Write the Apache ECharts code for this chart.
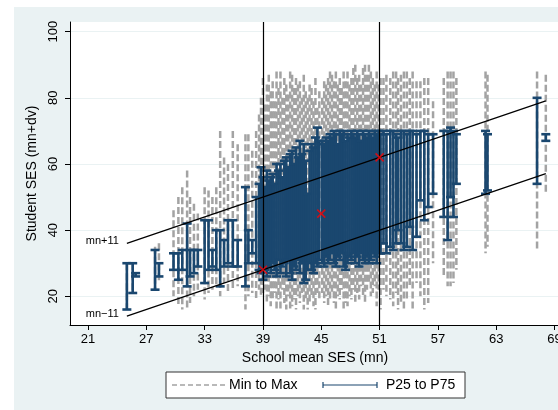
<!DOCTYPE html>
<html>
<head>
<meta charset="utf-8">
<script src="https://cdn.jsdelivr.net/npm/echarts@6/dist/echarts.min.js"></script>
<style>
html, body { margin: 0; padding: 0; background: #fff; }
#main { width: 558px; height: 410px; }
</style>
</head>
<body>
<div id="main"></div>
<script>
// school mean SES (one entry per school)
var mn = [
    25.0, 25.6, 25.9, 27.9, 28.3, 29.8, 30.3, 30.7, 31.2, 31.5, 31.9, 32.3, 33.0, 33.4, 33.8, 34.2, 34.6, 35.0, 35.4, 35.9, 36.4, 37.2, 37.5, 37.9, 38.3, 38.6,
    38.8, 39.0, 39.2, 39.4, 39.6, 39.8, 40.0, 40.2, 40.4, 40.6, 40.8, 41.0, 41.2, 41.4, 41.6, 41.8, 42.0, 42.2, 42.4, 42.6,
    42.8, 43.0, 43.2, 43.4, 43.6, 43.8, 44.0, 44.2, 44.4, 44.6, 44.8, 45.1, 45.3, 45.5, 45.7, 45.9, 46.1, 46.3, 46.5, 46.7,
    46.9, 47.1, 47.3, 47.5, 47.7, 47.9, 48.1, 48.3, 48.5, 48.7, 48.9, 49.1, 49.3, 49.5, 49.7, 49.9, 50.1, 50.3, 50.5, 50.7, 50.9, 51.1,
    51.4, 51.7, 52.1, 52.4, 52.7, 52.9, 53.2, 53.5, 53.8, 54.1, 54.4, 54.8, 55.2, 55.6, 56.0, 56.5, 57.6, 58.0, 58.3, 58.6, 58.9,
    61.9, 62.1, 67.2, 68.1
];
var smin = [
    16, 21, 26, 22, 24, 20, 17, 16, 16, 18, 20, 22, 19, 21, 22, 23, 20, 24, 21, 22, 23, 16, 20, 21, 19, 22,
    20, 21, 22, 18, 20, 17, 19, 21, 16, 19, 16, 22, 18, 16, 20, 16, 17, 19, 16, 20,
    18, 21, 16, 19, 16, 18, 20, 17, 16, 21, 19, 21, 18, 20, 17, 19, 21, 18, 16, 20,
    19, 22, 16, 18, 17, 20, 19, 22, 18, 21, 19, 23, 20, 18, 22, 24, 20, 21, 23, 17, 22, 16,
    22, 20, 19, 17, 21, 16, 18, 16, 19, 23, 16, 24, 20, 16, 18, 30, 26, 23, 23, 24, 28,
    33, 35, 34, 51
];
var p25 = [
    16, 21, 26, 22, 26, 28, 25, 28, 23, 26, 27, 29, 24, 28, 29, 28, 23, 29, 30, 29, 29, 23, 30, 33, 30, 28,
    27, 25, 28, 26, 29, 27, 30, 28, 26, 31, 27, 29, 30, 26, 31, 27, 25, 29, 28, 31,
    27, 30, 24, 25, 28, 30, 28, 27, 30, 29, 31, 30, 29, 32, 30, 31, 33, 30, 29, 32,
    31, 33, 29, 28, 30, 32, 31, 33, 30, 32, 29, 33, 31, 30, 32, 30, 31, 33, 32, 30, 33, 33,
    36, 33, 35, 34, 36, 40, 36, 34, 35, 41, 34, 38, 49, 43, 47, 51, 44, 37, 50, 44, 54,
    51, 52, 54, 67
];
var p75 = [
    30, 30, 27, 34, 30, 33, 33, 34, 42, 34, 34, 34, 43, 43, 34, 40, 40, 37, 43, 43, 37, 53, 40, 37, 50, 54,
    59, 56, 53, 58, 55, 56, 57, 54, 60, 58, 60, 56, 61, 62, 59, 63, 64, 60, 65, 62,
    67, 63, 66, 61, 51, 64, 66, 65, 68, 71, 67, 67, 66, 68, 67, 69, 68, 70, 69, 66,
    70, 69, 70, 67, 69, 68, 70, 69, 68, 70, 69, 67, 70, 69, 68, 70, 69, 68, 70, 69, 70, 69,
    70, 69, 70, 70, 69, 68, 70, 70, 69, 70, 70, 69, 70, 70, 69, 69, 70, 70, 71, 70, 69,
    70, 69, 80, 69
];
var smax = [
    30, 30, 27, 35, 36, 46, 50, 53, 58, 50, 48, 45, 53, 52, 50, 53, 70, 62, 60, 70, 66, 69, 69, 64, 70, 75,
    80, 86, 78, 84, 87, 82, 85, 79, 88, 83, 88, 80, 86, 84, 81, 88, 87, 83, 86, 84,
    85, 80, 87, 82, 80, 84, 83, 79, 86, 77, 82, 80, 85, 84, 86, 88, 87, 85, 88, 84,
    86, 83, 88, 85, 88, 84, 86, 89, 90, 86, 87, 84, 89, 90, 87, 90, 88, 86, 84, 88, 84, 86,
    86, 87, 86, 88, 88, 86, 87, 88, 88, 86, 88, 85, 85, 86, 86, 79, 86, 88, 88, 88, 86,
    88, 87, 88, 87
];

// reference lines mn+11 / mn-11, xlines and marked points
var bandX = [25, 68.1];
var upperY = [36, 79.1];
var lowerY = [14, 57.1];
var vlineX = [39, 51];
var markX = [39, 45, 51];
var markY = [28, 45, 62];

var xTicks = [21, 27, 33, 39, 45, 51, 57, 63, 69];
var yTicks = [20, 40, 60, 80, 100];

var font = "'Liberation Sans', Arial, sans-serif";
var navy = '#1a476f';
var gray = '#a3a3a3';

var rangeData = mn.map(function (m, i) { return [m, smin[i], smax[i]]; });
var iqrData = mn.map(function (m, i) { return [m, p25[i], p75[i]]; });

function seg(a, b, st) {
    return { type: 'line', shape: { x1: a[0], y1: a[1], x2: b[0], y2: b[1] }, style: st };
}

function renderRange(params, api) {
    var x = api.value(0);
    var lo = api.coord([x, api.value(1)]);
    var hi = api.coord([x, api.value(2)]);
    return seg(hi, lo, { stroke: gray, lineWidth: 2.5, lineDash: [7, 3] });
}

function renderIqr(params, api) {
    var x = api.value(0);
    var lo = api.coord([x, api.value(1)]);
    var hi = api.coord([x, api.value(2)]);
    var st = { stroke: navy, lineWidth: 2.6 };
    return {
        type: 'group',
        children: [
            seg(lo, hi, st),
            seg([lo[0] - 4.5, lo[1]], [lo[0] + 4.5, lo[1]], st),
            seg([hi[0] - 4.5, hi[1]], [hi[0] + 4.5, hi[1]], st)
        ]
    };
}

function bandLabel(txt) {
    return { show: true, position: 'left', distance: 8, offset: [0, -2], formatter: txt, fontSize: 11, color: '#000', fontFamily: font };
}

var chart = echarts.init(document.getElementById('main'));
var option = {
    animation: false,
    backgroundColor: '#fff',
    textStyle: { fontFamily: font },
    grid: { left: 70, top: 22, right: -2, bottom: 85, outerBoundsMode: 'none', show: true, backgroundColor: '#fff', borderWidth: 0 },
    xAxis: {
        type: 'value',
        min: 19.15,
        max: 69.56,
        name: 'School mean SES (mn)',
        nameLocation: 'middle',
        nameGap: 21,
        nameTextStyle: { fontSize: 14, color: '#000' },
        axisLine: { lineStyle: { color: '#000', width: 1 } },
        axisTick: { customValues: xTicks, length: 5, lineStyle: { color: '#000' } },
        axisLabel: { customValues: xTicks, fontSize: 13, color: '#000', margin: 8 },
        splitLine: { show: false },
        z: 5
    },
    yAxis: {
        type: 'value',
        min: 11.32,
        max: 102.93,
        name: 'Student SES (mn+dv)',
        nameLocation: 'middle',
        nameGap: 27,
        nameTextStyle: { fontSize: 14, color: '#000' },
        axisLine: { show: true, lineStyle: { color: '#000', width: 1 } },
        axisTick: { show: true, customValues: yTicks, length: 5, lineStyle: { color: '#000' } },
        axisLabel: { customValues: yTicks, rotate: 90, fontSize: 13, color: '#000', margin: 10 },
        splitLine: { show: false },
        z: 5
    },
    graphic: [
        { type: 'rect', z: -5, shape: { x: 14, y: 7, width: 560, height: 420 }, style: { fill: '#eaf2f3' } },
        {
            type: 'group', z: 10, children: [
                { type: 'rect', shape: { x: 166, y: 372, width: 299, height: 26 }, style: { fill: '#fff', stroke: '#333', lineWidth: 1 } },
                { type: 'line', shape: { x1: 172, y1: 385, x2: 225, y2: 385 }, style: { stroke: gray, lineWidth: 1.5, lineDash: [5, 3] } },
                { type: 'text', style: { x: 229, y: 385, text: 'Min to Max', fontSize: 14, fill: '#000', verticalAlign: 'middle', fontFamily: font } },
                { type: 'line', shape: { x1: 323, y1: 385, x2: 377, y2: 385 }, style: { stroke: navy, lineWidth: 1.2 } },
                { type: 'line', shape: { x1: 323, y1: 382, x2: 323, y2: 388 }, style: { stroke: navy, lineWidth: 1.2 } },
                { type: 'line', shape: { x1: 377, y1: 382, x2: 377, y2: 388 }, style: { stroke: navy, lineWidth: 1.2 } },
                { type: 'text', style: { x: 386, y: 385, text: 'P25 to P75', fontSize: 14, fill: '#000', verticalAlign: 'middle', fontFamily: font } }
            ]
        }
    ],
    series: [
        {
            // gridlines only
            type: 'line',
            data: [],
            markLine: {
                z: 1, silent: true, symbol: 'none', label: { show: false },
                lineStyle: { color: '#eaf2f3', width: 1.2, type: 'solid' },
                data: yTicks.map(function (v) { return { yAxis: v }; })
            }
        },
        {
            name: 'Min to Max',
            type: 'custom',
            z: 2,
            renderItem: renderRange,
            encode: { x: 0, y: [1, 2] },
            data: rangeData
        },
        {
            name: 'P25 to P75',
            type: 'custom',
            z: 3,
            renderItem: renderIqr,
            encode: { x: 0, y: [1, 2] },
            data: iqrData
        },
        {
            type: 'line',
            z: 4,
            symbol: 'circle',
            symbolSize: 0,
            showSymbol: true,
            lineStyle: { color: '#000', width: 1.2 },
            data: [{ value: [bandX[0], upperY[0]], label: bandLabel('mn+11') }, [bandX[1], upperY[1]]],
            markLine: {
                z: 6, silent: true, symbol: 'none', label: { show: false },
                lineStyle: { color: '#000', width: 1.2, type: 'solid' },
                data: vlineX.map(function (v) { return { xAxis: v }; })
            }
        },
        {
            type: 'line',
            z: 4,
            symbol: 'circle',
            symbolSize: 0,
            showSymbol: true,
            lineStyle: { color: '#000', width: 1.2 },
            data: [{ value: [bandX[0], lowerY[0]], label: bandLabel('mn\u221211') }, [bandX[1], lowerY[1]]]
        },
        {
            type: 'scatter',
            z: 7,
            symbol: 'path://M0,0L10,10M10,0L0,10',
            symbolSize: 8,
            itemStyle: { color: 'none', borderColor: '#ff0000', borderWidth: 1.5 },
            data: markX.map(function (v, i) { return [v, markY[i]]; })
        }
    ]
};
chart.setOption(option);
</script>
</body>
</html>
